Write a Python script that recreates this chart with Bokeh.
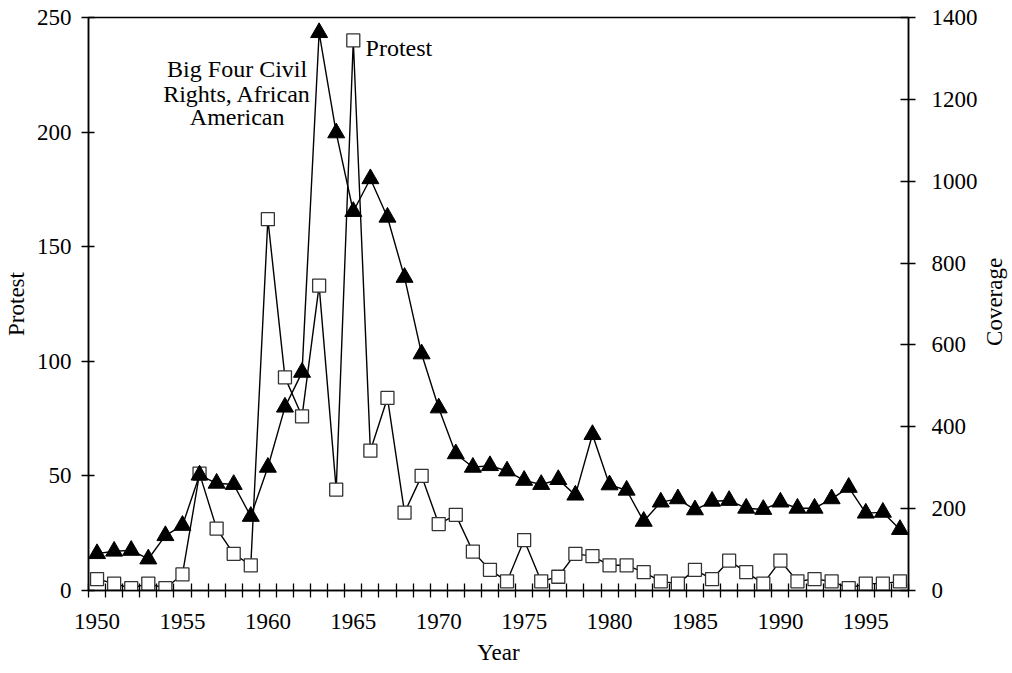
import math
from bokeh.plotting import figure
from bokeh.layouts import row
from bokeh.models import Range1d, LinearAxis, FixedTicker, Label, ColumnDataSource
from bokeh.embed import file_html
from bokeh.resources import INLINE

years = list(range(1950, 1998))
protest = [5, 3, 1, 3, 1, 7, 51, 27, 16, 11,
           162, 93, 76, 133, 44, 240, 61, 84, 34, 50,
           29, 33, 17, 9, 4, 22, 4, 6, 16, 15,
           11, 11, 8, 4, 3, 9, 5, 13, 8, 3,
           13, 4, 5, 4, 1, 3, 3, 4]
coverage = [90, 96, 98, 77, 134, 159, 282, 262, 259, 181,
            301, 448, 533, 1363, 1118, 926, 1006, 912, 765, 578,
            446, 334, 301, 305, 292, 269, 259, 271, 233, 381,
            258, 245, 169, 216, 224, 197, 218, 220, 201, 198,
            216, 201, 201, 224, 252, 189, 191, 149]
x_label_ticks = [1950, 1955, 1960, 1965, 1970, 1975, 1980, 1985, 1990, 1995]
left_ticks = [0, 50, 100, 150, 200, 250]
right_ticks = [0, 200, 400, 600, 800, 1000, 1200, 1400]

FONT = "Liberation Serif"
FS = "23px"
AFS = "24px"

src = ColumnDataSource(dict(year=years, protest=protest, coverage=coverage))

p = figure(width=982, height=673, output_backend="svg", toolbar_location=None,
           x_range=Range1d(1949.5, 1997.5), y_range=Range1d(0, 250),
           min_border_left=88, min_border_right=74, min_border_top=17, min_border_bottom=83)
p.extra_y_ranges = {"cov": Range1d(0, 1400)}
p.xgrid.visible = False
p.ygrid.visible = False
p.outline_line_color = "black"
p.outline_line_width = 1.5
p.background_fill_color = "white"
p.border_fill_color = "white"


def style_title(ax, text, standoff):
    ax.axis_label = text
    ax.axis_label_text_font = FONT
    ax.axis_label_text_font_size = FS
    ax.axis_label_text_font_style = "normal"
    ax.axis_label_text_color = "black"
    ax.axis_label_standoff = standoff


# x axis
xa = p.xaxis[0]
xa.ticker = FixedTicker(ticks=x_label_ticks, minor_ticks=[y - 0.5 for y in years] + [1997.5])
xa.major_tick_line_color = None
xa.major_tick_out = 7
xa.major_tick_in = 0
xa.minor_tick_in = 7
xa.minor_tick_out = 7
xa.minor_tick_line_color = "black"
xa.minor_tick_line_width = 1.3
xa.axis_line_color = "black"
xa.axis_line_width = 1.5
xa.major_label_standoff = 16
xa.major_label_text_font = FONT
xa.major_label_text_font_size = FS
xa.major_label_text_color = "black"
style_title(xa, "Year", 8)

# left axis
ya = p.yaxis[0]
ya.ticker = FixedTicker(ticks=left_ticks)
ya.minor_tick_line_color = None
ya.major_tick_in = 6
ya.major_tick_out = 7
ya.major_tick_line_color = "black"
ya.major_tick_line_width = 1.3
ya.axis_line_color = "black"
ya.axis_line_width = 1.5
ya.major_label_standoff = 10
ya.major_label_text_font = FONT
ya.major_label_text_font_size = FS
ya.major_label_text_color = "black"
style_title(ya, "Protest", 5)

# right axis (ticks and numbers)
ra = LinearAxis(y_range_name="cov", ticker=FixedTicker(ticks=right_ticks))
ra.minor_tick_line_color = None
ra.major_tick_in = 8
ra.major_tick_out = 7
ra.major_tick_line_color = "black"
ra.major_tick_line_width = 1.3
ra.axis_line_color = "black"
ra.axis_line_width = 1.5
ra.major_label_standoff = 16
ra.major_label_text_font = FONT
ra.major_label_text_font_size = FS
ra.major_label_text_color = "black"
p.add_layout(ra, "right")

# protest series (squares)
p.line("year", "protest", source=src, line_color="black", line_width=1.4)
p.scatter("year", "protest", source=src, marker="square", size=13,
          fill_color="white", line_color="#333333", line_width=1.3)

# coverage series (triangles)
p.line("year", "coverage", source=src, y_range_name="cov", line_color="black", line_width=1.4)
p.scatter("year", "coverage", source=src, y_range_name="cov", marker="triangle", size=17,
          fill_color="black", line_color="black")

# annotations
for txt, yy in [("Big Four Civil", 227.7), ("Rights, African", 216.8), ("American", 206.4)]:
    p.add_layout(Label(x=1958.2, y=yy, text=txt, text_align="center", text_baseline="alphabetic",
                       text_font=FONT, text_font_size=AFS, text_color="black"))
p.add_layout(Label(x=1965.72, y=236.9, text="Protest", text_align="left", text_baseline="alphabetic",
                   text_font=FONT, text_font_size=AFS, text_color="black"))

# narrow strip carrying the right-hand title "Coverage" (reads bottom-to-top)
p2 = figure(width=30, height=673, output_backend="svg", toolbar_location=None,
            x_range=Range1d(0, 30), y_range=Range1d(0, 673),
            x_axis_type=None, y_axis_type=None,
            min_border_left=0, min_border_right=0, min_border_top=0, min_border_bottom=0)
p2.outline_line_color = None
p2.xgrid.visible = False
p2.ygrid.visible = False
p2.background_fill_color = "white"
p2.border_fill_color = "white"
p2.add_layout(Label(x=11.5, y=339, text="Coverage", angle=math.pi / 2, text_align="center",
                    text_baseline="middle", text_font=FONT, text_font_size=FS, text_color="black"))

layout = row(p, p2, spacing=0)
open("out.html", "w").write(file_html(layout, INLINE))
